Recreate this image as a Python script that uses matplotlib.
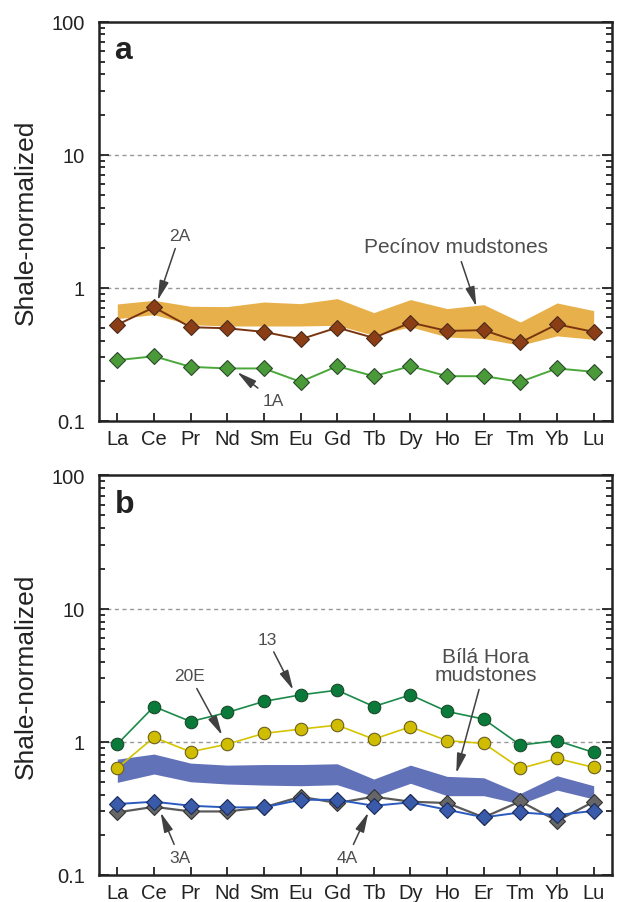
import numpy as np
import matplotlib.pyplot as plt

plt.rcParams['font.family'] = ['Liberation Sans', 'DejaVu Sans']

# REE elements
ree = ['La', 'Ce', 'Pr', 'Nd', 'Sm', 'Eu', 'Gd', 'Tb', 'Dy', 'Ho', 'Er', 'Tm', 'Yb', 'Lu']

# panel a
pecinov_hi = [0.754, 0.803, 0.724, 0.72, 0.78, 0.758, 0.827, 0.649, 0.813, 0.696, 0.745, 0.552, 0.767, 0.672]
pecinov_lo = [0.585, 0.627, 0.527, 0.515, 0.515, 0.515, 0.521, 0.438, 0.507, 0.426, 0.414, 0.369, 0.434, 0.409]
s2A = [0.527, 0.711, 0.504, 0.495, 0.465, 0.409, 0.501, 0.419, 0.546, 0.473, 0.479, 0.387, 0.530, 0.465]
s1A = [0.285, 0.305, 0.254, 0.247, 0.247, 0.196, 0.257, 0.216, 0.257, 0.216, 0.216, 0.196, 0.247, 0.233]

# panel b
bila_hi = [0.741, 0.809, 0.692, 0.668, 0.675, 0.675, 0.684, 0.525, 0.668, 0.55, 0.537, 0.41, 0.556, 0.468]
bila_lo = [0.496, 0.573, 0.501, 0.482, 0.473, 0.468, 0.476, 0.389, 0.488, 0.394, 0.394, 0.341, 0.434, 0.372]
s13 = [0.96, 1.84, 1.42, 1.66, 2.01, 2.25, 2.44, 1.84, 2.25, 1.69, 1.48, 0.945, 1.02, 0.832]
s20E = [0.635, 1.08, 0.841, 0.96, 1.156, 1.245, 1.334, 1.047, 1.296, 1.02, 0.973, 0.631, 0.75, 0.642]
s3A = [0.295, 0.325, 0.30, 0.30, 0.322, 0.387, 0.347, 0.387, 0.355, 0.347, 0.271, 0.357, 0.255, 0.355]
s4A = [0.341, 0.355, 0.331, 0.322, 0.322, 0.367, 0.367, 0.331, 0.351, 0.309, 0.271, 0.295, 0.282, 0.303]

x = np.arange(len(ree))
W, H = 628, 903
fig = plt.figure(figsize=(W / 100, H / 100), dpi=100)
ax_a = fig.add_axes([99 / W, (H - 421.7) / H, 513 / W, 399.2 / H])
ax_b = fig.add_axes([99 / W, (H - 876) / H, 513 / W, 399.6 / H])

txtc = '#4d4d4d'
arrow = dict(arrowstyle='-|>,head_length=0.6,head_width=0.14', color='#404040', lw=1.1,
             mutation_scale=20, shrinkA=2, shrinkB=0)


def style(ax, label):
    ax.set_yscale('log')
    ax.set_ylim(0.1, 100)
    ax.set_xlim(-0.5, 13.5)
    ax.set_xticks(x)
    ax.set_xticklabels(ree)
    ax.set_yticks([0.1, 1, 10, 100])
    ax.set_yticklabels(['0.1', '1', '10', '100'])
    for v in [1, 10]:
        ax.axhline(v, color='#999999', ls=(0, (3, 2.5)), lw=1, zorder=0)
    ax.tick_params(axis='y', which='both', direction='in', right=True, labelsize=14.5, colors='#222', pad=10)
    ax.tick_params(axis='y', which='major', length=7, width=1.3)
    ax.tick_params(axis='y', which='minor', length=4, width=1.3)
    ax.tick_params(axis='x', direction='in', length=6, width=1.3, labelsize=14.5, colors='#222', pad=6)
    for s in ax.spines.values():
        s.set_linewidth(1.8)
        s.set_color('#222')
    ax.set_ylabel('Shale-normalized', fontsize=19, color='#222', labelpad=10)
    ax.text(0.03, 0.965, label, transform=ax.transAxes, fontsize=23, fontweight='bold',
            va='top', ha='left', color='#222')


style(ax_a, 'a')
style(ax_b, 'b')

# panel a
ax_a.fill_between(x, pecinov_lo, pecinov_hi, color='#E8B04A', lw=0, zorder=1)
ax_a.plot(x, s2A, color='#7a3510', lw=1.4, marker='D', ms=8.5, mfc='#8B3E16', mec='#4a2a1a', mew=0.8, zorder=3)
ax_a.plot(x, s1A, color='#4aa83a', lw=1.4, marker='D', ms=8.5, mfc='#4a9a3a', mec='#2a4a2a', mew=0.8, zorder=3)

ax_a.annotate('2A', xy=(1.1, 0.8), xytext=(1.7, 2.46), fontsize=12.5, color=txtc, ha='center', va='center',
              arrowprops=arrow)
ax_a.annotate('Pecínov mudstones', xy=(9.8, 0.72), xytext=(9.25, 2.03), fontsize=15, color=txtc,
              ha='center', va='center', arrowprops=arrow)
ax_a.annotate('1A', xy=(3.27, 0.232), xytext=(4.26, 0.143), fontsize=12.5, color=txtc, ha='center', va='center',
              arrowprops=arrow)

# panel b
ax_b.fill_between(x, bila_lo, bila_hi, color='#6272B8', lw=0, zorder=1)
ax_b.plot(x, s3A, color='#5a5a5a', lw=1.6, marker='D', ms=8.5, mfc='#666666', mec='#333333', mew=0.8, zorder=3)
ax_b.plot(x, s4A, color='#2a5ac0', lw=1.4, marker='D', ms=8.5, mfc='#3a5aaa', mec='#1a2a5a', mew=0.8, zorder=4)
ax_b.plot(x, s20E, color='#d4c400', lw=1.2, marker='o', ms=9, mfc='#d0bc00', mec='#6a6020', mew=0.8, zorder=3)
ax_b.plot(x, s13, color='#1a8a4a', lw=1.2, marker='o', ms=9, mfc='#0a7a3a', mec='#1a4a2a', mew=0.8, zorder=3)

ax_b.annotate('13', xy=(4.8, 2.45), xytext=(4.09, 5.9), fontsize=12.5, color=txtc, ha='center', va='center',
              arrowprops=arrow)
ax_b.annotate('20E', xy=(2.86, 1.12), xytext=(1.98, 3.13), fontsize=12.5, color=txtc, ha='center', va='center',
              arrowprops=arrow)
ax_b.annotate('Bílá Hora\nmudstones', xy=(9.25, 0.58), xytext=(10.05, 3.75), fontsize=15, color=txtc,
              ha='center', va='center', linespacing=0.95, arrowprops=arrow)
ax_b.annotate('3A', xy=(1.18, 0.295), xytext=(1.7, 0.136), fontsize=12.5, color=txtc, ha='center', va='center',
              arrowprops=arrow)
ax_b.annotate('4A', xy=(6.85, 0.295), xytext=(6.28, 0.136), fontsize=12.5, color=txtc, ha='center', va='center',
              arrowprops=arrow)

fig.savefig('out.png', dpi=100)
